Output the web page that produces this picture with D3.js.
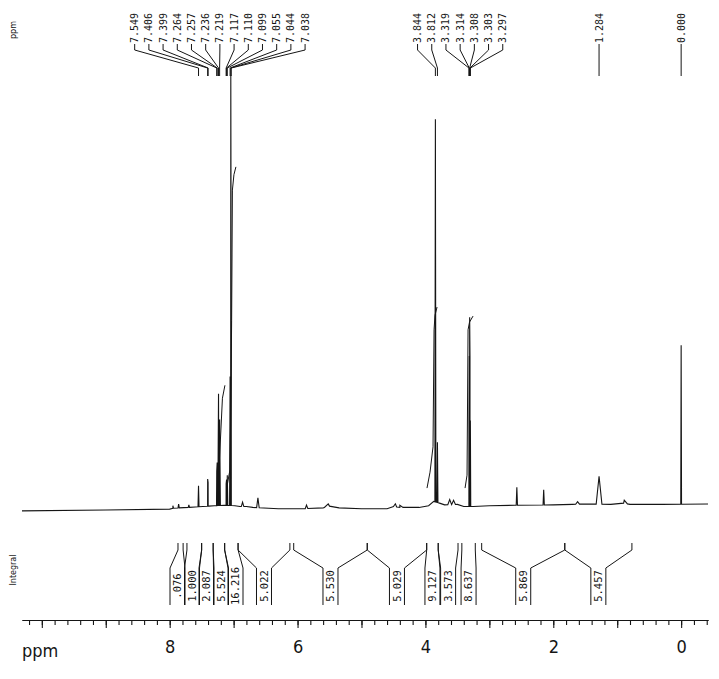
<!DOCTYPE html>
<html>
<head>
<meta charset="utf-8">
<script src="https://cdn.jsdelivr.net/npm/d3@7"></script>
<style>
  body { margin: 0; background: #fff; }
  text { fill: #151515; }
</style>
</head>
<body>
<div id="chart"></div>
<script>
// chemical shifts printed above the peaks
var shiftLabels = [7.549, 7.406, 7.399, 7.264, 7.257, 7.236, 7.219, 7.117, 7.110, 7.099,
  7.055, 7.044, 7.038, 3.844, 3.812, 3.319, 3.314, 3.308, 3.303, 3.297, 1.284, 0.000];

// spectrum peaks (ppm, height in % of tallest line, half width in ppm)
var peakPpm = [7.95, 7.86, 7.70, 7.549, 7.406, 7.399, 7.264, 7.257, 7.236, 7.219, 7.117, 7.110, 7.099,
  7.055, 7.044, 7.038, 6.86, 6.62, 5.86, 5.52, 4.47, 4.40, 3.844, 3.812, 3.62, 3.56,
  3.319, 3.314, 3.308, 3.303, 3.297, 2.57, 2.15, 1.62, 1.284, 0.89, 0.000];
var peakHeight = [0.6, 0.9, 0.6, 4.9, 6.3, 5.5, 8, 10, 26, 20, 5, 6, 7,
  30, 100, 44, 1.0, 2.3, 0.8, 0.6, 0.7, 0.5, 89, 14, 1.2, 1.0,
  20, 35, 44, 35, 20, 4.2, 3.5, 0.6, 6.5, 0.7, 37];
var peakWidth = [0.01, 0.01, 0.01, 0.008, 0.008, 0.008, 0.01, 0.01, 0.012, 0.012, 0.008, 0.008, 0.008,
  0.008, 0.008, 0.008, 0.02, 0.02, 0.02, 0.06, 0.05, 0.05, 0.008, 0.008, 0.03, 0.03,
  0.006, 0.006, 0.006, 0.006, 0.006, 0.01, 0.01, 0.03, 0.045, 0.05, 0.006];

// baseline drift between the peaks
var baselinePpm = [10.31, 9.0, 8.0, 7.95, 7.6, 7.3, 7.15, 6.98, 6.9, 6.8, 6.7, 6.3, 5.9, 5.6, 5.5, 5.35,
  5.0, 4.6, 4.5, 4.4, 4.1, 3.95, 3.87, 3.78, 3.70, 3.5, 3.4, 3.25, 3.0, 2.6, 2.0, 1.7, 1.5, 1.1,
  0.9, 0.8, 0.3, -0.42];
var baselineLevel = [-0.2, 0, 0.2, 0.4, 0.7, 1.0, 1.1, 1.0, 0.8, 0.8, 0.6, 0.3, 0.3, 0.5, 0.9, 0.5,
  0.3, 0.3, 0.8, 0.6, 0.6, 1.0, 2.0, 1.6, 1.2, 1.3, 0.8, 0.8, 1.0, 1.1, 1.2, 1.3, 1.4, 1.3,
  1.6, 1.3, 1.3, 1.4];

// visible pieces of the integral curve
var integralTraces = [
  [[7.262, 2.3], [7.23, 9.3], [7.199, 18.6], [7.175, 26], [7.136, 29]],
  [[7.097, 6], [7.058, 9.3], [7.042, 25.6], [7.031, 44], [7.019, 74.4], [6.995, 78], [6.964, 79.8]],
  [[3.975, 5.1], [3.928, 8.8], [3.881, 14.7], [3.865, 41.9], [3.850, 45.3], [3.818, 47.2]],
  [[3.38, 5.1], [3.349, 8.1], [3.333, 41.9], [3.310, 43.7], [3.255, 45.1]]
];

// integral regions
var integralFrom = [7.87, 7.73, 7.50, 7.32, 7.14, 6.93, 6.06, 4.91, 3.98, 3.80, 3.43, 3.12, 1.82];
var integralTo = [7.79, 7.50, 7.32, 7.14, 6.93, 6.12, 4.91, 3.98, 3.80, 3.49, 3.22, 1.82, 0.77];
var integralLabels = [".076", "1.000", "2.087", "5.524", "16.216", "5.022", "5.530", "5.029",
  "9.127", "3.573", "8.637", "5.869", "5.457"];

var tickLabels = [8, 6, 4, 2, 0];

var W = 719, H = 679;
var ink = "#151515";
var svg = d3.select("#chart").append("svg").attr("width", W).attr("height", H);

var x = d3.scaleLinear().domain([10.31, -0.42]).range([22, 708]);
var y = d3.scaleLinear().domain([0, 100]).range([510, 80]);
var base = d3.scaleLinear().domain(baselinePpm).range(baselineLevel);

// spread labels that would overlap, keeping each cluster centred on its targets
function spread(ideal, gap) {
  var cl = ideal.map(function (v, i) { return { i: i, n: 1, sum: v }; });
  var changed = true;
  while (changed) {
    changed = false;
    for (var k = 0; k < cl.length - 1; k++) {
      var a = cl[k], b = cl[k + 1];
      var aEnd = a.sum / a.n + (a.n - 1) * gap / 2;
      var bStart = b.sum / b.n - (b.n - 1) * gap / 2;
      if (bStart - aEnd < gap) {
        cl.splice(k, 2, { i: a.i, n: a.n + b.n, sum: a.sum + b.sum });
        changed = true;
        break;
      }
    }
  }
  var out = [];
  cl.forEach(function (c) {
    var c0 = c.sum / c.n - (c.n - 1) * gap / 2;
    for (var j = 0; j < c.n; j++) out.push(c0 + j * gap);
  });
  return out;
}

// spectrum trace
var pts = baselinePpm.map(function (p) { return [p, base(p)]; });
peakPpm.forEach(function (p, i) {
  var w = peakWidth[i];
  pts.push([p + w, base(p + w)]);
  pts.push([p, base(p) + peakHeight[i]]);
  pts.push([p - w, base(p - w)]);
});
pts.sort(function (a, b) { return b[0] - a[0]; });

var line = d3.line().x(function (d) { return x(d[0]); }).y(function (d) { return y(d[1]); });

svg.append("path")
  .attr("d", line(pts))
  .attr("fill", "none")
  .attr("stroke", ink)
  .attr("stroke-width", 1.1);

svg.selectAll(".intcurve")
  .data(integralTraces)
  .enter()
  .append("path")
  .attr("class", "intcurve")
  .attr("d", line)
  .attr("fill", "none")
  .attr("stroke", ink)
  .attr("stroke-width", 1);

// peak labels and leaders
var labelX = spread(shiftLabels.map(function (p) { return x(p); }), 14.2);
var peakG = svg.append("g");
shiftLabels.forEach(function (p, i) {
  var lx = labelX[i], px = x(p);
  peakG.append("path")
    .attr("d", "M" + lx + ",44V50L" + px + ",68V76")
    .attr("fill", "none")
    .attr("stroke", ink)
    .attr("stroke-width", 1);
  peakG.append("text")
    .attr("transform", "translate(" + lx + ",43)rotate(-90)")
    .attr("dy", "0.35em")
    .style("font-family", "DejaVu Sans Mono")
    .style("font-size", "10px")
    .text(p.toFixed(3));
});

// integral brackets
var intCenters = integralFrom.map(function (a, i) { return (x(a) + x(integralTo[i])) / 2; });
var intX = spread(intCenters, 14.5);
var ig = svg.append("g");
integralLabels.forEach(function (lab, i) {
  var lx = intX[i];
  var xa = x(integralFrom[i]), xb = x(integralTo[i]);
  ig.append("path")
    .attr("d", "M" + xa + ",543V550L" + (lx - 7.5) + ",568V605M" + xb + ",543V550L" + (lx + 7.5) + ",568V605")
    .attr("fill", "none")
    .attr("stroke", ink)
    .attr("stroke-width", 1);
  ig.append("text")
    .attr("transform", "translate(" + lx + ",586)rotate(-90)")
    .attr("text-anchor", "middle")
    .attr("dy", "0.35em")
    .style("font-family", "DejaVu Sans Mono")
    .style("font-size", "10.5px")
    .text(lab);
});

// side captions
svg.append("text")
  .attr("transform", "translate(13,30)rotate(-90)")
  .attr("text-anchor", "middle").attr("dy", "0.35em")
  .style("font-family", "DejaVu Sans").style("font-size", "8px")
  .text("ppm");
svg.append("text")
  .attr("transform", "translate(13,570)rotate(-90)")
  .attr("text-anchor", "middle").attr("dy", "0.35em")
  .style("font-family", "DejaVu Sans").style("font-size", "8px")
  .text("Integral");

// ppm axis
var minor = d3.range(-2, 52).map(function (k) { return k / 5; });
var ax = svg.append("g").attr("transform", "translate(0,620)");
ax.append("g")
  .call(d3.axisBottom(x).tickValues(minor).tickSize(5).tickSizeOuter(0).tickFormat(""));
ax.append("g")
  .call(d3.axisBottom(x).tickValues(d3.range(0, 11)).tickSize(8).tickSizeOuter(0).tickFormat(""));
ax.append("g")
  .call(d3.axisBottom(x).tickValues(tickLabels).tickSize(0).tickPadding(20).tickSizeOuter(0)
    .tickFormat(d3.format("d")))
  .call(function (g) { g.select(".domain").remove(); })
  .selectAll("text")
  .style("font-family", "DejaVu Sans Condensed, DejaVu Sans")
  .style("font-size", "18px");
ax.selectAll(".domain, line").attr("stroke", ink).attr("stroke-width", 1.1);
ax.append("text")
  .attr("x", 22).attr("y", 37)
  .style("font-family", "DejaVu Sans Condensed, DejaVu Sans")
  .style("font-size", "18px")
  .text("ppm");
</script>
</body>
</html>
